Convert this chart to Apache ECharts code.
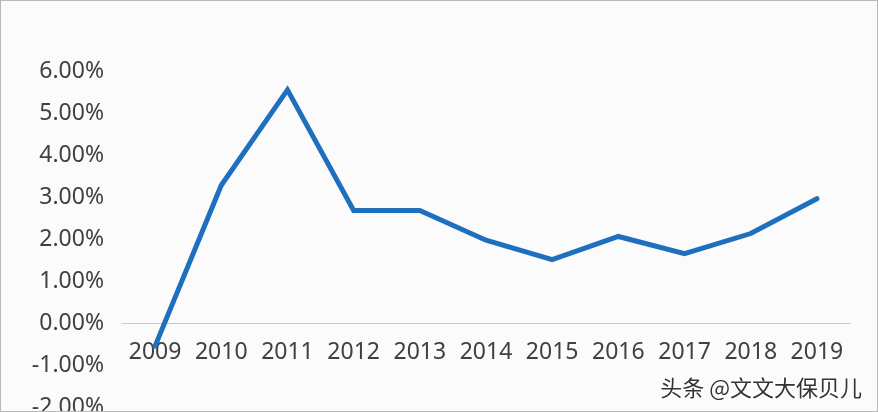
<!DOCTYPE html>
<html>
<head>
<meta charset="utf-8">
<script src="https://cdn.jsdelivr.net/npm/echarts@6/dist/echarts.min.js"></script>
<style>
html,body{margin:0;padding:0;background:#fff;}
#c{width:878px;height:412px;box-sizing:border-box;border:1px solid #b8b8bc;background:#fbfbfc;}
</style>
</head>
<body>
<div id="c"></div>
<script>
const years = ['2009','2010','2011','2012','2013','2014','2015','2016','2017','2018','2019'];
const growth = [-0.0055, 0.0328, 0.0555, 0.0268, 0.0268, 0.0197, 0.0151, 0.0206, 0.0165, 0.0213, 0.0296];
const watermark = '头条 @文文大保贝儿';

const chart = echarts.init(document.getElementById('c'), null, {renderer: 'canvas'});
chart.setOption({
  animation: false,
  backgroundColor: '#fbfbfc',
  grid: {left: 121, right: 27, top: 70, bottom: 4, containLabel: false, outerBoundsMode: 'none'},
  xAxis: {
    type: 'category',
    data: years,
    boundaryGap: true,
    position: 'bottom',
    offset: -84,
    axisLine: {onZero: false, lineStyle: {color: '#c8c8cc', width: 1}},
    axisTick: {show: false},
    axisLabel: {color: '#404040', fontSize: 23, fontFamily: 'Noto Sans', margin: 18, interval: 0}
  },
  yAxis: {
    type: 'value',
    min: -0.02, max: 0.06, interval: 0.01,
    axisLine: {show: false},
    axisTick: {show: false},
    splitLine: {show: false},
    axisLabel: {
      color: '#404040', fontSize: 23, fontFamily: 'Noto Sans', margin: 18,
      formatter: v => (v * 100).toFixed(2) + '%'
    }
  },
  series: [{
    type: 'line',
    data: growth,
    symbol: 'none',
    z: 5,
    lineStyle: {color: '#1f6fbf', width: 5, cap: 'round', join: 'miter'},
    itemStyle: {color: '#1f6fbf'}
  }],
  graphic: [{
    type: 'text',
    right: 14, top: 375,
    z: 100,
    style: {
      text: watermark,
      fontSize: 22,
      fontFamily: 'Noto Sans CJK SC',
      fill: '#333',
      stroke: '#fff',
      lineWidth: 2
    }
  }]
});
</script>
</body>
</html>
